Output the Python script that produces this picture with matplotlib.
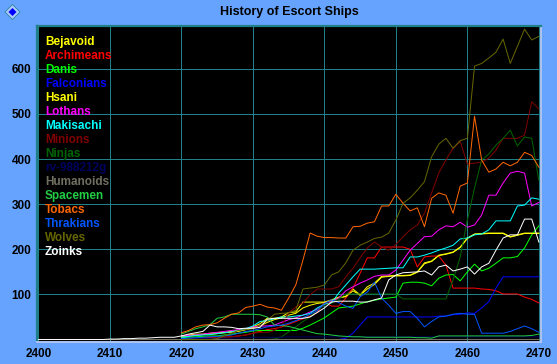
import numpy as np
import matplotlib
matplotlib.use("Agg")
import matplotlib.pyplot as plt
from matplotlib.patches import Polygon

plt.rcParams['font.family'] = ['Liberation Sans', 'DejaVu Sans']

# data, one value per year
years_all = np.arange(2400, 2471)
years = np.arange(2420, 2471)

bejavoid = [8, 10, 12, 12, 14, 15, 16, 18, 20, 22,
            28, 35, 47, 47, 50, 60, 61, 83, 83, 83,
            83, 88, 94, 96, 112, 99, 117, 125, 140, 141,
            142, 142, 143, 150, 170, 174, 187, 190, 194, 205,
            225, 234, 235, 236, 236, 236, 228, 232, 236, 236, 236]
archimeans = [2, 2, 3, 3, 4, 5, 5, 6, 8, 10,
              14, 18, 22, 24, 28, 34, 40, 46, 52, 60,
              83, 74, 74, 92, 114, 147, 181, 181, 205, 205,
              205, 205, 200, 161, 183, 185, 185, 165, 114, 114,
              114, 114, 112, 111, 108, 101, 101, 101, 94, 89, 81]
danis = [4, 5, 6, 7, 8, 8, 10, 12, 14, 16,
         19, 20, 20, 20, 20, 20, 20, 25, 32, 40,
         48, 59, 70, 72, 74, 79, 84, 87, 90, 92,
         94, 125, 127, 127, 125, 119, 136, 143, 144, 130,
         150, 167, 152, 158, 169, 181, 181, 184, 203, 232, 252]
falconians = [0, 0, 0, 0, 0, 0, 0, 0, 0, 0,
              0, 0, 0, 0, 0, 0, 0, 0, 0, 0,
              0, 0, 0, 3, 14, 32, 50, 50, 50, 50,
              50, 50, 50, 50, 50, 50, 52, 52, 55, 56,
              59, 58, 70, 84, 114, 139, 139, 139, 139, 139, 139]
hsani = [6, 8, 9, 11, 12, 13, 15, 16, 18, 22,
         26, 30, 38, 44, 48, 54, 58, 70, 76, 80,
         82, 86, 92, 95, 108, 98, 112, 122, 138, 140,
         141, 141, 142, 149, 168, 173, 186, 189, 193, 204,
         224, 233, 234, 235, 235, 235, 227, 231, 235, 235, 235]
lothans = [8, 9, 10, 12, 14, 16, 18, 20, 22, 24,
           28, 30, 30, 32, 38, 44, 48, 54, 61, 67,
           76, 84, 92, 108, 117, 125, 132, 140, 143, 143,
           154, 176, 198, 213, 228, 229, 243, 252, 250, 260,
           249, 254, 276, 320, 320, 347, 369, 373, 369, 296, 304]
makisachi = [5, 7, 9, 10, 11, 13, 15, 17, 20, 24,
             30, 40, 42, 46, 50, 50, 52, 54, 58, 70,
             78, 81, 103, 121, 139, 156, 156, 156, 157, 158,
             159, 159, 183, 183, 187, 192, 198, 203, 209, 223,
             225, 232, 234, 243, 263, 263, 263, 296, 298, 314, 311]
minions = [1, 1, 2, 2, 3, 4, 5, 6, 8, 10,
           14, 16, 16, 20, 30, 59, 72, 81, 99, 112,
           112, 112, 117, 139, 158, 181, 203, 216, 205, 198,
           211, 228, 243, 254, 280, 325, 369, 398, 424, 439,
           389, 391, 393, 402, 420, 446, 446, 446, 453, 527, 511]
ninjas = [0, 0, 0, 0, 0, 0, 0, 0, 0, 0,
          0, 0, 0, 1, 6, 17, 28, 40, 50, 65,
          76, 81, 90, 101, 101, 101, 101, 101, 101, 101,
          101, 90, 90, 90, 90, 90, 90, 90, 132, 183,
          265, 336, 398, 411, 431, 446, 464, 429, 449, 446, 353]
rv_988212g = [1, 1, 2, 2, 2, 3, 3, 3, 4, 4,
              5, 5, 5, 5, 5, 6, 6, 6, 6, 6,
              6, 6, 6, 6, 6, 6, 6, 6, 6, 6,
              6, 6, 6, 6, 6, 6, 6, 6, 6, 6,
              6, 6, 6, 6, 6, 6, 6, 6, 6, 6, 6]
humanoids = [1] * 71
spacemen = [12, 18, 24, 28, 33, 47, 50, 56, 56, 56,
            56, 55, 50, 32, 31, 29, 25, 21, 17, 13,
            12, 10, 8, 7, 6, 6, 5, 5, 5, 5,
            5, 5, 5, 4, 4, 3, 8, 8, 8, 8,
            8, 8, 8, 8, 8, 8, 8, 8, 8, 9, 12]
tobacs = [15, 20, 28, 32, 33, 37, 47, 56, 59, 71,
          74, 78, 72, 70, 65, 92, 121, 176, 236, 229,
          226, 226, 225, 225, 250, 251, 258, 261, 296, 296,
          322, 302, 285, 292, 250, 313, 325, 320, 280, 340,
          347, 495, 398, 371, 378, 393, 385, 393, 415, 408, 382]
thrakians = [2, 3, 4, 5, 6, 7, 8, 10, 14, 18,
             20, 24, 28, 30, 32, 36, 42, 48, 56, 64,
             80, 88, 82, 74, 69, 95, 105, 127, 92, 76,
             58, 62, 62, 47, 28, 40, 50, 52, 56, 58,
             56, 56, 14, 14, 14, 14, 18, 24, 30, 24, 16]
wolves = [0, 0, 0, 0, 0, 2, 8, 14, 20, 22,
          24, 30, 42, 56, 58, 59, 65, 112, 114, 116,
          121, 143, 150, 170, 198, 209, 216, 224, 227, 236,
          265, 302, 314, 331, 350, 405, 433, 446, 424, 441,
          446, 606, 612, 624, 637, 666, 612, 650, 688, 664, 672]
zoinks = [0, 0, 0, 0, 0, 0, 0, 0, 0, 0,
          1, 1, 2, 2, 3, 3, 4, 5, 5, 5,
          8, 12, 15, 18, 32, 28, 28, 27, 24, 25,
          25, 27, 45, 47, 47, 47, 47, 47, 50, 60,
          70, 83, 85, 85, 85, 83, 83, 88, 92, 132,
          143, 148, 149, 150, 152, 143, 161, 165, 152, 156,
          161, 145, 161, 169, 198, 225, 232, 232, 267, 267, 216]

names = ['Bejavoid', 'Archimeans', 'Danis', 'Falconians', 'Hsani', 'Lothans',
         'Makisachi', 'Minions', 'Ninjas', 'rv-988212g', 'Humanoids', 'Spacemen',
         'Tobacs', 'Thrakians', 'Wolves', 'Zoinks']
values = [bejavoid, archimeans, danis, falconians, hsani, lothans, makisachi,
          minions, ninjas, rv_988212g, humanoids, spacemen, tobacs, thrakians,
          wolves, zoinks]
colors = ['#ffff00', '#ff0000', '#00ff00', '#0000ff', '#ffff00', '#ff00ff',
          '#00ffff', '#800000', '#006400', '#000060', '#707060', '#22cc44',
          '#ff6600', '#0055ff', '#666600', '#ffffff']

x_ticks = [2400, 2410, 2420, 2430, 2440, 2450, 2460, 2470]
y_ticks = [100, 200, 300, 400, 500, 600]

BG = '#66a3ff'
TEAL = '#208088'
W, H = 557, 364

fig = plt.figure(figsize=(W / 100, H / 100), dpi=100, facecolor=BG)
ax = fig.add_axes([37 / W, 1 - 342 / H, 504 / W, 316 / H], facecolor='black')
ax.set_xlim(2399.8, 2470.3)
ax.set_ylim(-5.5, 695)

ax.set_xticks(x_ticks)
ax.set_yticks(y_ticks)
ax.tick_params(length=0, labelsize=8.5, labelcolor='black', pad=4)
for lab in ax.get_xticklabels() + ax.get_yticklabels():
    lab.set_fontweight('bold')
ax.grid(True, color=TEAL, linewidth=0.5, antialiased=False)
ax.set_axisbelow(True)

for s in ['left', 'top']:
    ax.spines[s].set_color(TEAL)
    ax.spines[s].set_linewidth(1.6)
for s in ['right', 'bottom']:
    ax.spines[s].set_color('#b0c4f0')
    ax.spines[s].set_linewidth(1.4)

for name, vals, col in zip(names, values, colors):
    xs = years_all if len(vals) == 71 else years
    ax.plot(xs, vals, color=col, linewidth=0.72, antialiased=True)

# legend is just text down the left side
for i, (name, col) in enumerate(zip(names, colors)):
    fig.text(45 / W, 1 - (42 + 14 * i) / H, name, color=col, fontsize=8.5,
             fontweight='bold', va='center', ha='left')

fig.text(289 / W, 1 - 12 / H, 'History of Escort Ships', color='black',
         fontsize=9, fontweight='bold', ha='center', va='center')

# little diamond icon top left
for r, c in [(8, TEAL), (7, '#a8c8ff'), (4, '#0000ff')]:
    fig.add_artist(Polygon([((12.5 - r) / W, 1 - 12 / H), (12.5 / W, 1 - (12 - r) / H),
                            ((12.5 + r) / W, 1 - 12 / H), (12.5 / W, 1 - (12 + r) / H)],
                           closed=True, facecolor=c, edgecolor='none',
                           transform=fig.transFigure))

fig.savefig('out.png', dpi=100, facecolor=BG)
